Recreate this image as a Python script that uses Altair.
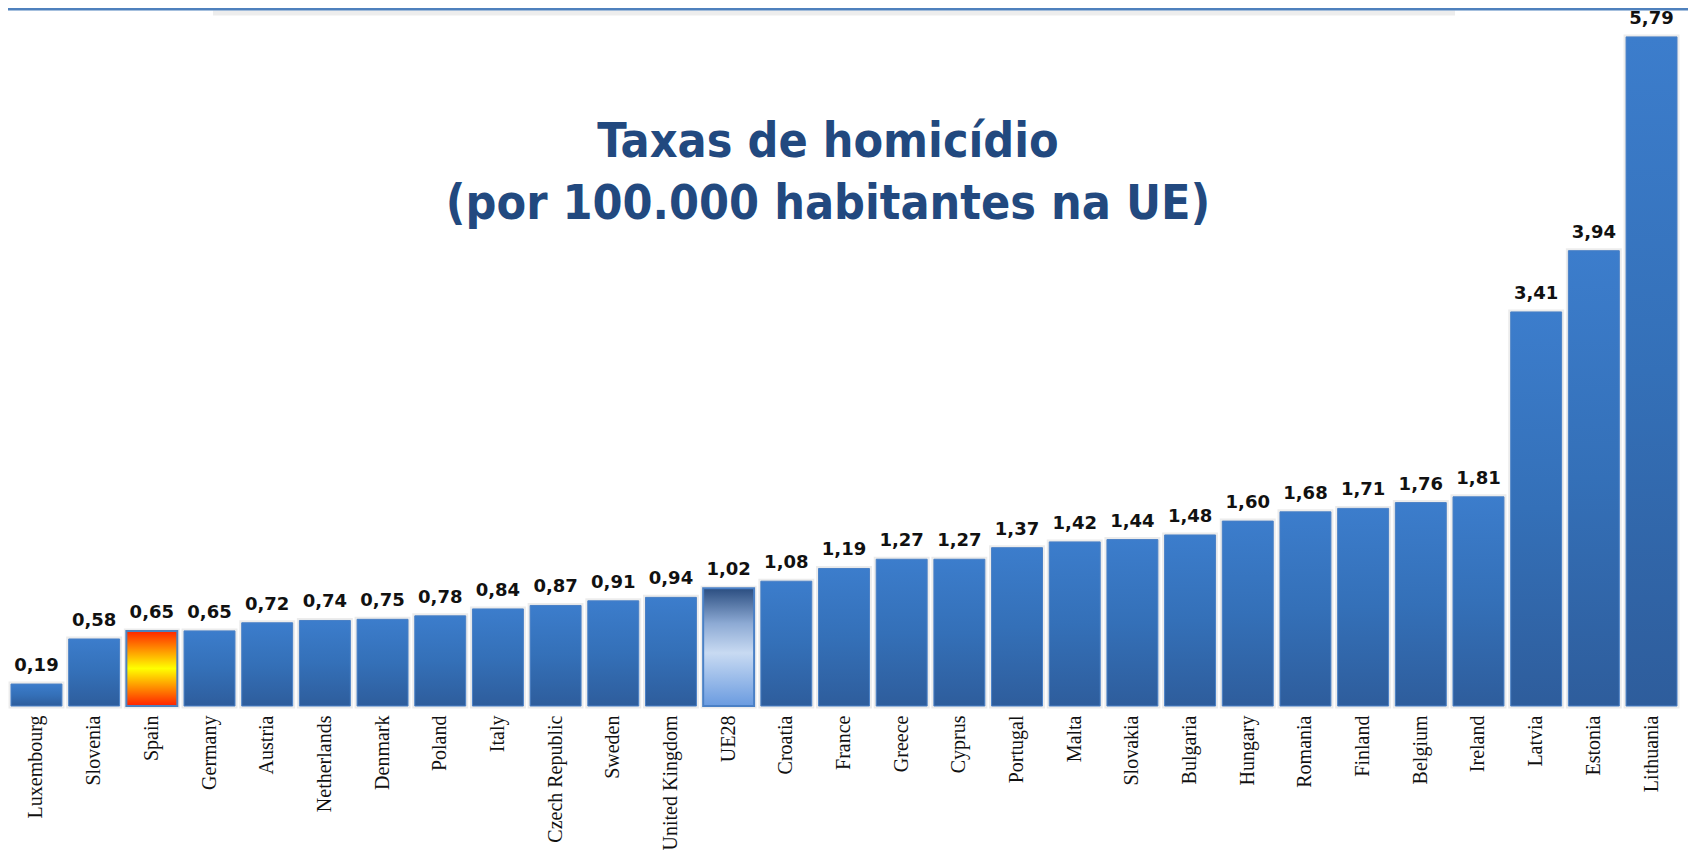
import altair as alt
import pandas as pd

countries = ["Luxembourg", "Slovenia", "Spain", "Germany", "Austria", "Netherlands",
             "Denmark", "Poland", "Italy", "Czech Republic", "Sweden", "United Kingdom",
             "UE28", "Croatia", "France", "Greece", "Cyprus", "Portugal", "Malta",
             "Slovakia", "Bulgaria", "Hungary", "Romania", "Finland", "Belgium",
             "Ireland", "Latvia", "Estonia", "Lithuania"]
values = [0.19, 0.58, 0.65, 0.65, 0.72, 0.74, 0.75, 0.78, 0.84, 0.87, 0.91, 0.94,
          1.02, 1.08, 1.19, 1.27, 1.27, 1.37, 1.42, 1.44, 1.48, 1.60, 1.68, 1.71,
          1.76, 1.81, 3.41, 3.94, 5.79]
groups = ["spain" if c == "Spain" else ("eu" if c == "UE28" else "other") for c in countries]
title_lines = ["Taxas de homicídio", "(por 100.000 habitantes na UE)"]

df = pd.DataFrame({
    "country": countries,
    "value": values,
    "group": groups,
    "label": [f"{v:.2f}".replace(".", ",") for v in values],
})

W, H = 1672, 698
x_enc = alt.X("country:N", sort=countries,
              scale=alt.Scale(paddingInner=0.117, paddingOuter=0.052),
              axis=alt.Axis(title=None, labelAngle=-90, ticks=False, tickSize=0,
                            domain=False, grid=False, labelPadding=9,
                            labelFont="Liberation Serif", labelFontSize=20,
                            labelColor="#111111", labelLimit=300))
y_enc = alt.Y("value:Q", scale=alt.Scale(domain=[0, 6.04], nice=False, zero=True), axis=None)

blue_grad = alt.Gradient(gradient="linear", x1=0, x2=0, y1=0, y2=1, stops=[
    alt.GradientStop(color="#3C7DCC", offset=0),
    alt.GradientStop(color="#3470B8", offset=0.5),
    alt.GradientStop(color="#2E5D9C", offset=1)])
spain_grad = alt.Gradient(gradient="linear", x1=0, x2=0, y1=0, y2=1, stops=[
    alt.GradientStop(color="#FF2400", offset=0),
    alt.GradientStop(color="#FFFF00", offset=0.5),
    alt.GradientStop(color="#FF2000", offset=1)])
eu_grad = alt.Gradient(gradient="linear", x1=0, x2=0, y1=0, y2=1, stops=[
    alt.GradientStop(color="#2A4D80", offset=0),
    alt.GradientStop(color="#8DAAD4", offset=0.3),
    alt.GradientStop(color="#C8DAF2", offset=0.55),
    alt.GradientStop(color="#6A9BE0", offset=1)])

base = alt.Chart(df)

shadow = base.mark_bar(fill="#000000", fillOpacity=0, stroke="#e4e4e4", strokeWidth=5,
                       strokeOpacity=0.7).encode(x=x_enc, y=y_enc)
bars = base.transform_filter(alt.datum.group == "other").mark_bar(
    color=blue_grad, stroke="#4A80C6", strokeWidth=1).encode(x=x_enc, y=y_enc)
spain = base.transform_filter(alt.datum.group == "spain").mark_bar(
    color=spain_grad, stroke="#4F81BD", strokeWidth=2).encode(x=x_enc, y=y_enc)
eu = base.transform_filter(alt.datum.group == "eu").mark_bar(
    color=eu_grad, stroke="#4A80C6", strokeWidth=2).encode(x=x_enc, y=y_enc)

labels = base.mark_text(dy=-13, baseline="alphabetic", font="DejaVu Sans",
                        fontWeight="bold", fontSize=18, color="#111111").encode(
    x=x_enc, y=y_enc, text="label:N")

tdf = pd.DataFrame({"t": title_lines})
title_font = "'Liberation Sans Narrow', 'DejaVu Sans Condensed', sans-serif"
t1 = alt.Chart(tdf).transform_filter(alt.datum.t == title_lines[0]).mark_text(
    font=title_font, fontWeight="bold", fontSize=48, color="#22497F", align="center",
    baseline="alphabetic").encode(text="t:N", x=alt.value(820), y=alt.value(149))
t2 = alt.Chart(tdf).transform_filter(alt.datum.t == title_lines[1]).mark_text(
    font=title_font, fontWeight="bold", fontSize=48, color="#22497F", align="center",
    baseline="alphabetic").encode(text="t:N", x=alt.value(820), y=alt.value(211))

top_line = alt.Chart(tdf.head(1)).mark_rule(color="#4F81BD", strokeWidth=3).encode(
    x=alt.value(0), x2=alt.value(W + 8), y=alt.value(1))
top_shadow = alt.Chart(tdf.head(1)).mark_rule(color="#d8d8d8", strokeWidth=5,
                                               opacity=0.45).encode(
    x=alt.value(205), x2=alt.value(1447), y=alt.value(5))

chart = alt.layer(top_shadow, top_line, shadow, bars, spain, eu, labels, t1, t2).properties(
    width=W, height=H,
    autosize=alt.AutoSizeParams(type="none"),
    padding={"left": 0, "top": 0, "right": 8, "bottom": 148},
    background="white",
).configure_view(stroke=None)

chart.save("out.html", embed_options={"renderer": "svg", "actions": False})
